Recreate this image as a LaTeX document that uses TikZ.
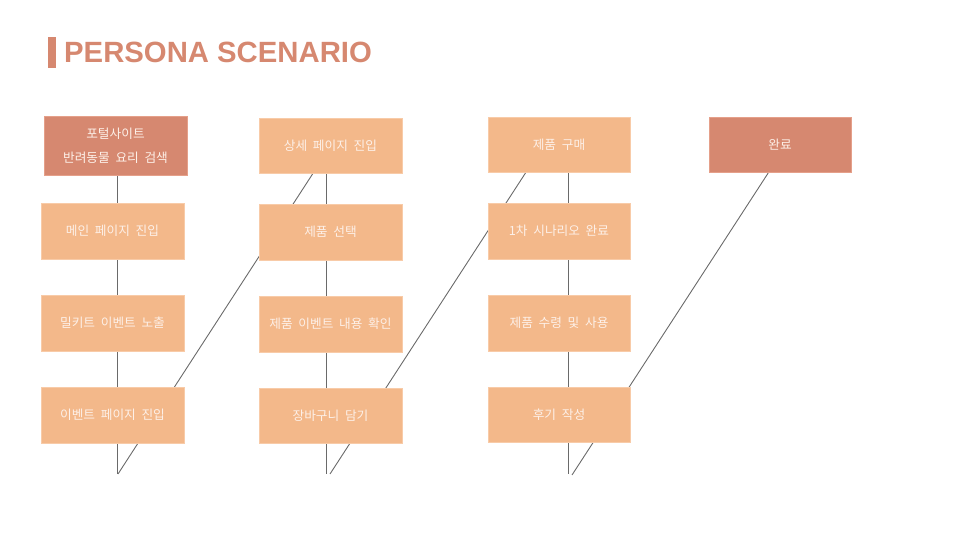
\documentclass[tikz,border=0pt]{standalone}
\usepackage{fontspec}
\setmainfont{Liberation Sans}
\newfontfamily\kr[WordSpace=2.0]{Noto Sans CJK KR}
\usetikzlibrary{calc,backgrounds}
\definecolor{salmon}{HTML}{D68870}
\definecolor{salmonedge}{HTML}{E5A08A}
\definecolor{peach}{HTML}{F3B88A}
\definecolor{peachedge}{HTML}{F8CBA8}
\definecolor{boxtext}{HTML}{FDF0E8}
\definecolor{linegray}{HTML}{6A6A6A}
\tikzset{
  stepbox/.style={draw=peachedge, line width=0.8pt, fill=peach, minimum width=143pt, minimum height=56pt,
    inner sep=0pt, text=boxtext, font=\kr\fontsize{12.7}{24}\selectfont, align=center},
  darkbox/.style={stepbox, draw=salmonedge, fill=salmon},
  link/.style={draw=linegray, line width=0.9pt}
}
\begin{document}
\begin{tikzpicture}[x=1pt,y=-1pt]
\useasboundingbox (0,0) rectangle (960,540);
% title
\fill[salmon] (48,37) rectangle (56,68) coordinate (bar);
\node[anchor=base west, inner sep=0pt, text=salmon, font=\fontsize{29.3}{30}\selectfont\bfseries] (title) at (64,62.5) {PERSONA SCENARIO};
% column 1
\node[darkbox, minimum height=59pt] (a1) at (115.5,145.5) {포털사이트\\반려동물 요리 검색};
\node[stepbox] (b1) at (112.5,231) {메인 페이지 진입};
\node[stepbox] (c1) at (112.5,323) {밀키트 이벤트 노출};
\node[stepbox] (d1) at (112.5,415) {이벤트 페이지 진입};
% column 2
\node[stepbox, minimum height=55pt] (a2) at (330.5,145.5) {상세 페이지 진입};
\node[stepbox] (b2) at (330.5,232) {제품 선택};
\node[stepbox] (c2) at (330.5,324) {제품 이벤트 내용 확인};
\node[stepbox, minimum height=55pt] (d2) at (330.5,415.5) {장바구니 담기};
% column 3
\node[stepbox, minimum width=142pt, minimum height=55pt] (a3) at (559,144.5) {제품 구매};
\node[stepbox, minimum width=142pt] (b3) at (559,231) {1차 시나리오 완료};
\node[stepbox, minimum width=142pt] (c3) at (559,323) {제품 수령 및 사용};
\node[stepbox, minimum width=142pt, minimum height=55pt] (d3) at (559,414.5) {후기 작성};
% column 4
\node[darkbox, minimum width=142pt, minimum height=55pt] (a4) at (780,144.5) {완료};
% connector ends
\coordinate (v1) at (117,474);
\coordinate (f1) at (118,474);
\coordinate (v2) at (326,474);
\coordinate (f2) at (330,474);
\coordinate (v3) at (568,474);
\coordinate (f3) at (572,475);
\begin{scope}[on background layer]
\draw[link] (v1 |- a1.south) -- (v1);
\draw[link] (f1) -- ($(a2.south west)!0.378!(a2.south east)$);
\draw[link] ([yshift=2pt]v2 |- a2.south) -- (v2);
\draw[link] (f2) -- ($(a3.south west)!0.268!(a3.south east)$);
\draw[link] ([yshift=4pt]v3 |- a3.south) -- (v3);
\draw[link] (f3) -- ($(a4.south west)!0.42!(a4.south east)$);
\end{scope}
\end{tikzpicture}
\end{document}
